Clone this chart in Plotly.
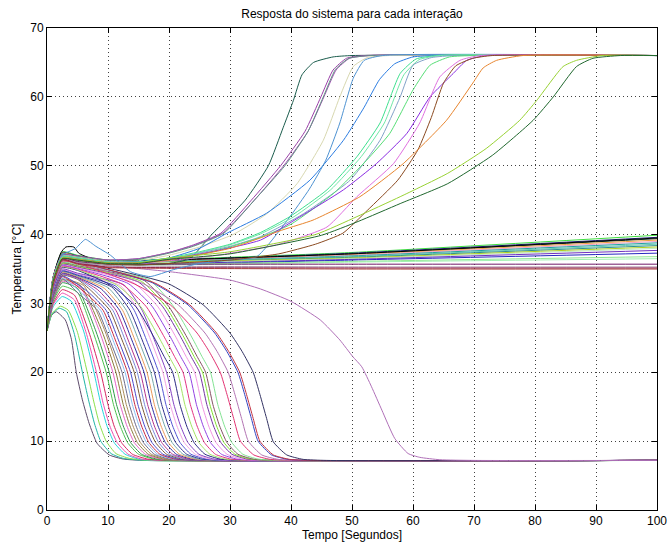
import plotly.graph_objects as go

TITLE = "Resposta do sistema para cada interação"
X_LABEL = "Tempo [Segundos]"
Y_LABEL = "Temperatura [°C]"

# ---- lines that fall to the lower saturation (~7.2 °C) ----
FALL_T = [
    [0, 0.7, 1.5, 3.0, 4.0, 4.8, 5.8, 6.9, 8.2, 10.2, 12.5, 16, 100],
    [0, 0.8, 2.0, 3.2, 4.5, 5.8, 6.8, 7.8, 8.8, 10.5, 12.5, 16, 100],
    [0, 0.8, 2.2, 3.5, 5.0, 6.6, 7.6, 8.6, 9.7, 11.3, 13.5, 17, 100],
    [0, 1, 2.5, 4, 6, 7.7, 8.8, 9.8, 11, 12.8, 15, 19, 100],
    [0, 1, 2.5, 4.5, 6.5, 8.1, 9.2, 10.3, 11.5, 13.3, 15.5, 19.5, 100],
    [0, 1, 2.5, 4.5, 7, 8.8, 10, 11, 12.2, 14, 16.5, 20, 100],
    [0, 1, 2.5, 5, 7.5, 9.7, 10.9, 12, 13.2, 15, 17.5, 21, 100],
    [0, 1, 2.5, 5, 8, 10.2, 11.4, 12.5, 13.7, 15.5, 18, 22, 100],
    [0, 1, 2.5, 5.5, 8.5, 10.8, 12, 13.1, 14.3, 16.1, 18.6, 22.5, 100],
    [0, 1, 2.5, 5.5, 9, 11.3, 12.5, 13.6, 14.8, 16.6, 19.1, 23, 100],
    [0, 1, 2.5, 6, 9.5, 11.8, 13, 14.1, 15.3, 17.1, 19.6, 23.5, 100],
    [0, 1, 2.5, 5.3, 8.3, 10.3, 12.3, 13.5, 14.6, 15.8, 17.6, 20.1, 24, 100],
    [0, 1, 2.5, 5.8, 8.8, 10.8, 12.8, 14, 15.1, 16.3, 18.1, 20.6, 24.5, 100],
    [0, 1, 2.5, 6.2, 9.2, 11.2, 13.2, 14.4, 15.5, 16.7, 18.5, 21, 24.9, 100],
    [0, 1, 2.5, 6.7, 9.7, 11.7, 13.7, 14.9, 16, 17.2, 19, 21.5, 25.4, 100],
    [0, 1, 2.5, 5, 7.3, 10.3, 12.3, 14.3, 15.5, 16.6, 17.8, 19.6, 22.1, 26, 100],
    [0, 1, 2.5, 5, 7.8, 10.8, 12.8, 14.8, 16, 17.1, 18.3, 20.1, 22.6, 26.5, 100],
    [0, 1, 2.5, 5, 8.3, 11.3, 13.3, 15.3, 16.5, 17.6, 18.8, 20.6, 23.1, 27, 100],
    [0, 1, 2.5, 5, 8.9, 11.9, 13.9, 15.9, 17.1, 18.2, 19.4, 21.2, 23.7, 27.6, 100],
    [0, 1, 2.5, 5, 9.4, 12.4, 14.4, 16.4, 17.6, 18.7, 19.9, 21.7, 24.2, 28.1, 100],
    [0, 1, 2.5, 5, 10, 13, 15, 17, 18.2, 19.3, 20.5, 22.3, 24.8, 28.7, 100],
    [0, 1, 2.5, 5, 10.6, 13.6, 15.6, 17.6, 18.8, 19.9, 21.1, 22.9, 25.4, 29.3, 100],
    [0, 1, 2.5, 5, 11.3, 14.3, 16.3, 18.3, 19.5, 20.6, 21.8, 23.6, 26.1, 30, 100],
    [0, 1, 2.5, 5, 12, 15, 17, 19, 20.2, 21.3, 22.5, 24.3, 26.8, 30.7, 100],
    [0, 1, 2.5, 5, 12.6, 15.6, 17.6, 19.6, 20.8, 21.9, 23.1, 24.9, 27.4, 31.3, 100],
    [0, 1, 2.5, 5, 10.6, 14.6, 17.6, 19.2, 20.6, 21.8, 22.9, 24.1, 25.9, 28.4, 32.3, 100],
    [0, 1, 2.5, 5, 11.4, 15.4, 18.4, 20, 21.4, 22.6, 23.7, 24.9, 26.7, 29.2, 33.1, 100],
    [0, 1, 2.5, 5, 12.3, 16.3, 19.3, 20.9, 22.3, 23.5, 24.6, 25.8, 27.6, 30.1, 34, 100],
    [0, 1, 2.5, 5, 13.3, 17.3, 20.3, 21.9, 23.3, 24.5, 25.6, 26.8, 28.6, 31.1, 35, 100],
    [0, 1, 2.5, 5, 14.2, 18.2, 21.2, 22.8, 24.2, 25.4, 26.5, 27.7, 29.5, 32, 35.9, 100],
    [0, 1, 2.5, 5, 15, 19, 22, 23.6, 25, 26.2, 27.3, 28.5, 30.3, 32.8, 36.7, 100],
    [0, 1, 2.5, 5, 15.5, 19.5, 22.5, 24.1, 25.5, 26.7, 27.8, 29, 30.8, 33.3, 37.2, 100],
    [0, 1, 2.5, 5, 16, 20, 23, 24.6, 26, 27.2, 28.3, 29.5, 31.3, 33.8, 37.7, 100],
    [0, 1, 2.5, 5, 16.8, 20.8, 23.8, 25.4, 26.8, 28, 29.1, 30.3, 32.1, 34.6, 38.5, 100],
    [0, 1, 2.5, 5, 14.4, 20.2, 24.6, 26.6, 28.4, 29.5, 30.6, 31.7, 33.9, 36.6, 40.4, 100],
    [0, 1, 2.5, 5, 15.7, 21.5, 25.9, 27.9, 29.7, 30.8, 31.9, 33, 35.2, 37.9, 41.7, 100],
    [0, 1, 2.5, 5, 17.3, 23.1, 27.5, 29.5, 31.3, 32.4, 33.5, 34.6, 36.8, 39.5, 43.3, 100],
    [0, 1, 2.5, 5, 17.6, 23.4, 27.8, 29.8, 31.6, 32.7, 33.8, 34.9, 37.1, 39.8, 43.6, 100],
    [0, 1, 2.5, 5, 19.8, 25.6, 30, 32, 33.8, 34.9, 36, 37.1, 39.3, 42, 45.8, 100],
    [0, 1, 2.5, 5, 10, 20.2, 30, 35, 40, 44.8, 48, 50.1, 51.6, 53.2, 54.9, 57, 59.2, 61.1, 64.4, 70, 100],
]
FALL_Y = [
    [26, 28.2, 28.8, 27.6, 24.8, 20.0, 16.0, 12.6, 9.7, 8.0, 7.4, 7.2, 7.2],
    [26, 28.4, 29.3, 28.8, 25.5, 20.0, 16.0, 12.5, 10.0, 8.2, 7.5, 7.2, 7.2],
    [26, 28.5, 29.6, 29.0, 25.8, 20.0, 16.0, 12.5, 10.0, 8.2, 7.5, 7.2, 7.2],
    [26, 29.5, 31, 30.3, 26.0, 20.0, 15.5, 12.3, 9.8, 8.1, 7.4, 7.2, 7.2],
    [26, 29.8, 31.5, 30.5, 25.5, 20.0, 15.5, 12.2, 9.8, 8.1, 7.4, 7.2, 7.2],
    [26, 30, 32, 31.2, 25.5, 20.0, 15.3, 12.2, 9.8, 8.1, 7.4, 7.2, 7.2],
    [26, 30.3, 32.5, 31.6, 26.0, 20.0, 15.3, 12.2, 9.8, 8.1, 7.4, 7.2, 7.2],
    [26, 30.5, 33, 32.2, 26.0, 20, 15.3, 12.2, 9.8, 8.1, 7.4, 7.2, 7.2],
    [26, 30.6, 33.2, 32.3, 26.2, 20, 15.3, 12.2, 9.8, 8.1, 7.4, 7.2, 7.2],
    [26, 30.7, 33.4, 32.6, 26.0, 20, 15.3, 12.2, 9.8, 8.1, 7.4, 7.2, 7.2],
    [26, 30.8, 33.5, 32.6, 26.0, 20, 15.3, 12.2, 9.8, 8.1, 7.4, 7.2, 7.2],
    [26, 30.8, 33.6, 31.3, 29, 24.7, 20, 15.3, 12.2, 9.8, 8.1, 7.4, 7.2, 7.2],
    [26, 30.9, 33.7, 31.4, 29, 24.7, 20, 15.3, 12.2, 9.8, 8.1, 7.4, 7.2, 7.2],
    [26, 31, 33.9, 31.6, 29, 24.7, 20, 15.3, 12.2, 9.8, 8.1, 7.4, 7.2, 7.2],
    [26, 31.1, 34, 31.7, 29, 24.7, 20, 15.3, 12.2, 9.8, 8.1, 7.4, 7.2, 7.2],
    [26, 31.2, 34.1, 33.5, 31.8, 29, 24.7, 20, 15.3, 12.2, 9.8, 8.1, 7.4, 7.2, 7.2],
    [26, 31.3, 34.2, 33.6, 31.9, 29, 24.7, 20, 15.3, 12.2, 9.8, 8.1, 7.4, 7.2, 7.2],
    [26, 31.4, 34.3, 33.7, 32, 29, 24.7, 20, 15.3, 12.2, 9.8, 8.1, 7.4, 7.2, 7.2],
    [26, 31.5, 34.4, 33.8, 32.1, 29, 24.7, 20, 15.3, 12.2, 9.8, 8.1, 7.4, 7.2, 7.2],
    [26, 31.6, 34.5, 33.9, 32.2, 29, 24.7, 20, 15.3, 12.2, 9.8, 8.1, 7.4, 7.2, 7.2],
    [26, 31.7, 34.6, 34, 32.3, 29, 24.7, 20, 15.3, 12.2, 9.8, 8.1, 7.4, 7.2, 7.2],
    [26, 31.8, 34.7, 34.1, 32.4, 29, 24.7, 20, 15.3, 12.2, 9.8, 8.1, 7.4, 7.2, 7.2],
    [26, 31.9, 34.8, 34.2, 32.5, 29, 24.7, 20, 15.3, 12.2, 9.8, 8.1, 7.4, 7.2, 7.2],
    [26, 32, 34.9, 34.3, 32.6, 29, 24.7, 20, 15.3, 12.2, 9.8, 8.1, 7.4, 7.2, 7.2],
    [26, 32.1, 35, 34.4, 32.7, 29, 24.7, 20, 15.3, 12.2, 9.8, 8.1, 7.4, 7.2, 7.2],
    [26, 32.4, 35.2, 34.8, 32.6, 29.5, 25, 22.3, 20, 15.3, 12.2, 9.8, 8.1, 7.4, 7.2, 7.2],
    [26, 32.5, 35.3, 34.9, 32.7, 29.5, 25, 22.3, 20, 15.3, 12.2, 9.8, 8.1, 7.4, 7.2, 7.2],
    [26, 32.6, 35.4, 35, 32.8, 29.5, 25, 22.3, 20, 15.3, 12.2, 9.8, 8.1, 7.4, 7.2, 7.2],
    [26, 32.7, 35.5, 35.1, 32.9, 29.5, 25, 22.3, 20, 15.3, 12.2, 9.8, 8.1, 7.4, 7.2, 7.2],
    [26, 32.8, 35.6, 35.2, 33, 29.5, 25, 22.3, 20, 15.3, 12.2, 9.8, 8.1, 7.4, 7.2, 7.2],
    [26, 32.9, 35.7, 35.3, 33.1, 29.5, 25, 22.3, 20, 15.3, 12.2, 9.8, 8.1, 7.4, 7.2, 7.2],
    [26, 33, 35.8, 35.4, 33.2, 29.5, 25, 22.3, 20, 15.3, 12.2, 9.8, 8.1, 7.4, 7.2, 7.2],
    [26, 33.1, 35.9, 35.5, 33.3, 29.5, 25, 22.3, 20, 15.3, 12.2, 9.8, 8.1, 7.4, 7.2, 7.2],
    [26, 33.2, 36, 35.6, 33.4, 29.5, 25, 22.3, 20, 15.3, 12.2, 9.8, 8.1, 7.4, 7.2, 7.2],
    [26, 33.3, 36.1, 35.8, 32.8, 29.8, 25.7, 23, 20, 16.8, 13.3, 10, 8, 7.35, 7.2, 7.2],
    [26, 33.4, 36.2, 35.9, 32.9, 29.8, 25.7, 23, 20, 16.8, 13.3, 10, 8, 7.35, 7.2, 7.2],
    [26, 33.5, 36.3, 36, 33, 29.8, 25.7, 23, 20, 16.8, 13.3, 10, 8, 7.35, 7.2, 7.2],
    [26, 33.5, 36.3, 36, 33, 29.8, 25.7, 23, 20, 16.8, 13.3, 10, 8, 7.35, 7.2, 7.2],
    [26, 33.6, 36.4, 36.1, 32.9, 29.8, 25.7, 23, 20, 16.8, 13.3, 9.9, 8, 7.35, 7.2, 7.2],
    [26, 33.5, 36.3, 36, 35.5, 34.6, 33.4, 32.1, 30.3, 27.6, 24.7, 22.3, 20.8, 17.9, 14.5, 10.4, 8.2, 7.65, 7.3, 7.2, 7.2],
]
FALL_COLORS = [
    "#5c4a6a", "#1fb5a5", "#8be04a", "#22d5dd", "#ee4fb0", "#d6245f", "#4ec24e", "#2f9a4a",
    "#e463c8", "#8a7a3c", "#a98c5a", "#6b6b8b", "#8cbcf2", "#c62a42", "#4a4acb", "#7b5a3a",
    "#7a8ad8", "#b3338a", "#2e2ea2", "#e99a5a", "#74a9a9", "#32328f", "#5555d5", "#f3a3e3",
    "#8442c4", "#2b2b82", "#a3e363", "#e33383", "#9343e3", "#f293e3", "#7333a3", "#83e333",
    "#835363", "#83e393", "#e33373", "#b373b3", "#3343c3", "#c33343", "#333363", "#b070b8",
]

# ---- lines that stay around 35-40 °C ----
DRIFT_T = [0, 1, 2.5, 5, 10, 20, 50, 100]
DRIFT_Y = [
    [26, 33.8, 37.5, 37.0, 36.3, 36.4, 37.4, 39.9],
    [26, 33.7, 37.4, 36.9, 36.2, 36.3, 37.3, 39.6],
    [26, 33.7, 37.3, 36.8, 36.2, 36.3, 37.2, 39.4],
    [26, 33.6, 37.3, 36.8, 36.1, 36.2, 37.1, 39.2],
    [26, 33.6, 37.2, 36.7, 36.1, 36.2, 37.0, 39.0],
    [26, 33.5, 37.2, 36.6, 36.0, 36.1, 36.9, 38.8],
    [26, 33.5, 37.1, 36.6, 36.0, 36.1, 36.8, 38.6],
    [26, 33.4, 37.1, 36.5, 35.9, 36.0, 36.7, 38.4],
    [26, 33.4, 37.0, 36.5, 35.9, 36.0, 36.6, 38.2],
    [26, 33.3, 37.0, 36.4, 35.8, 35.9, 36.5, 38.0],
    [26, 33.3, 36.9, 36.3, 35.8, 35.8, 36.4, 37.7],
    [26, 33.2, 36.9, 36.3, 35.7, 35.7, 36.3, 37.3],
    [26, 33.2, 36.8, 36.2, 35.7, 35.7, 36.1, 36.8],
    [26, 33.1, 36.8, 36.1, 35.6, 35.6, 36.0, 36.5],
    [26, 33.0, 36.6, 36.1, 35.7, 35.7, 35.7, 35.7],
    [26, 32.9, 36.5, 35.9, 35.5, 35.4, 35.3, 35.3],
    [26, 32.8, 36.4, 35.8, 35.3, 35.2, 35.15, 35.15],
    [26, 32.7, 36.3, 35.7, 35.2, 35.1, 35.0, 35.0],
]
DRIFT_COLORS = [
    "#40e040", "#202080", "#103828", "#f0a040", "#f0a0c8", "#20a0a0", "#60c8b0", "#2f8f8f",
    "#b0d020", "#c0e8c0", "#7030c0", "#2828c0", "#90e890", "#a0f0b0", "#701a68", "#b090a8",
    "#8a2050", "#a83838",
]
BLACK_T = [0, 1, 2.3, 3.1, 4.4, 5.2, 7, 10, 20, 50, 100]
BLACK_Y = [26, 33.8, 37.4, 38.2, 38.2, 37.3, 36.6, 36.2, 36.3, 37.2, 39.5]

# ---- lines that rise to the upper saturation (~66 °C) ----
RISE_T = [
    [0, 1, 2.5, 5, 10, 15, 20, 23.4, 27, 32.5, 36.3, 38.7, 40.4, 41.8, 43.7, 46.9, 50, 100],
    [0, 1, 2.5, 5, 10, 15, 20, 24, 28.5, 33.5, 38.3, 42.3, 44.9, 46.9, 49.1, 52, 100],
    [0, 1, 2.5, 5, 10, 15, 20, 24, 28.8, 34, 38.8, 42.8, 45.4, 47.4, 49.6, 53, 100],
    [0, 1, 2.5, 5, 10, 15, 20, 24, 29, 34, 39, 42.8, 45.3, 47.3, 49.5, 53, 100],
    [0, 1, 2.5, 5, 10, 15, 20, 25, 30.5, 36, 41, 45.3, 48, 50.2, 52.5, 56, 100],
    [0, 1, 2.5, 5, 10, 15, 20, 25, 29.5, 36, 43.1, 48.6, 52, 54.5, 57, 60, 64, 100],
    [0, 1, 2.5, 4.7, 6.3, 8, 10.4, 13.7, 16.9, 20.7, 25, 30, 34.4, 39.5, 43, 45.7, 48, 50.2, 52, 55, 100],
    [0, 1, 2.5, 5, 10, 15, 20, 25, 30, 35, 39.8, 45.9, 50.8, 54.6, 57.9, 60.5, 64, 100],
    [0, 1, 2.5, 5, 10, 15, 20, 25, 30, 35, 40.5, 46.5, 51.5, 55.3, 58.5, 61, 64.5, 100],
    [0, 1, 2.5, 5, 10, 15, 20, 25, 30, 35, 42, 49.7, 54.6, 57.9, 60, 63, 67, 100],
    [0, 1, 2.5, 5, 10, 15, 20, 25, 30, 35, 40, 47, 52.4, 56.2, 60, 62.8, 66, 70, 100],
    [0, 1, 2.5, 5, 10, 15, 20, 27, 35, 41.5, 48.6, 54, 59, 62.8, 66.6, 68.8, 72, 100],
    [0, 1, 2.5, 5, 10, 15, 20, 28, 38, 45.9, 50.8, 56.8, 61.1, 64.4, 67.7, 71, 100],
    [0, 1, 2.5, 5, 10, 15, 20, 30, 38, 44, 48.5, 52.5, 57.5, 60.8, 63, 65, 67, 69.8, 73, 100],
    [0, 1, 2.5, 5, 10, 15, 20, 30, 38.7, 43.6, 51.3, 58.4, 65.5, 69.8, 71.5, 73.7, 78, 100],
    [0, 1, 2.5, 5, 10, 15, 20, 30, 44, 50.8, 57.9, 65.7, 72, 77.5, 80.3, 84.6, 86.8, 91, 100],
    [0, 1, 2.5, 5, 10, 15, 20, 30, 45, 51, 57.9, 65.7, 73, 79.7, 83, 86.8, 89.5, 94, 100],
]
RISE_Y = [
    [26, 33.6, 36.8, 36.6, 35.9, 35.6, 35.8, 36.5, 40, 45, 50, 55.5, 59.5, 63.2, 65, 65.8, 66, 66],
    [26, 33.8, 37, 36.9, 36.3, 36.5, 37.4, 38.5, 40.2, 45, 50, 55, 60, 63.9, 65.6, 66, 66],
    [26, 33.8, 37, 36.8, 36.3, 36.5, 37.4, 38.4, 40.2, 45, 50, 55, 60, 63.9, 65.6, 66, 66],
    [26, 33.7, 36.9, 36.8, 36.2, 36.4, 37.3, 38.3, 40.2, 45, 50, 55, 60, 64, 65.6, 66, 66],
    [26, 33.6, 36.9, 36.7, 36.1, 36.2, 37, 38.2, 40, 43, 47.4, 53.7, 60, 64.4, 65.7, 66, 66],
    [26, 33.5, 36.8, 36.6, 36, 36.1, 36.6, 38, 40.2, 43.1, 47.9, 53.7, 58.5, 62.5, 64.8, 65.8, 66, 66],
    [26, 33.5, 37, 38, 39.3, 38.3, 37, 34.6, 33.9, 34.9, 35.8, 36.3, 36.8, 42.2, 46.6, 50.8, 56.2, 62.7, 65.3, 66, 66],
    [26, 33.5, 36.8, 36.6, 36, 36, 36.6, 37.5, 38.6, 40.3, 42.6, 46.5, 51.3, 56.2, 63.4, 65.5, 66, 66],
    [26, 33.5, 36.8, 36.6, 36, 36, 36.5, 37.4, 38.5, 40.1, 42.6, 46.5, 51.3, 56.2, 63.2, 65.4, 66, 66],
    [26, 33.5, 36.7, 36.5, 35.9, 35.9, 36.4, 37.3, 38.3, 39.7, 43, 47.9, 53.7, 60, 64.6, 65.7, 66, 66],
    [26, 33.4, 36.7, 36.5, 35.9, 35.9, 36.3, 37.1, 38.2, 39.6, 41.5, 46, 50.8, 54.7, 61, 64.6, 65.8, 66, 66],
    [26, 33.4, 36.6, 36.4, 35.9, 35.9, 36.4, 37.5, 39.2, 42.6, 46.5, 50.3, 54.7, 60, 63.4, 65.3, 66, 66],
    [26, 33.3, 36.6, 36.4, 35.8, 35.8, 36.2, 37, 38.6, 41.1, 45.5, 50.3, 56.2, 62.9, 65.3, 66, 66],
    [26, 33.2, 36.5, 36.3, 35.7, 35.6, 35.8, 36.3, 37.2, 38.6, 40.2, 43.5, 47.9, 52.3, 57, 62, 64.5, 65.6, 66, 66],
    [26, 33.3, 36.6, 36.4, 35.9, 35.9, 36.3, 38, 40.7, 42.1, 45.5, 50.3, 56.6, 62, 64.2, 65.3, 66, 66],
    [26, 33.3, 36.6, 36.4, 35.9, 35.9, 36.6, 37.5, 40, 42.6, 45.5, 48.9, 52.5, 56.6, 59.5, 64.4, 65.3, 66, 66],
    [26, 33.2, 36.5, 36.3, 35.8, 35.8, 36.4, 37.2, 39.9, 41.9, 44.5, 47.4, 51.5, 56.6, 60, 64.4, 65.6, 66, 66],
]
RISE_COLORS = [
    "#1a5c4c", "#9a40a8", "#a552b5", "#5f9282", "#d8d8b0", "#2c7de2", "#4d92d2", "#3ee08e",
    "#70e8a8", "#82a2c8", "#56de76", "#8a2be2", "#e070e0", "#8b4a20", "#e8852e", "#98d232",
    "#20682e",
]

fig = go.Figure()

def add_line(t, y, color):
    fig.add_trace(go.Scatter(
        x=t, y=y, mode="lines",
        line=dict(color=color, width=1, shape="spline", smoothing=0.5),
        hoverinfo="skip", showlegend=False,
    ))

for t, y, c in zip(FALL_T, FALL_Y, FALL_COLORS):
    add_line(t, y, c)
for y, c in zip(DRIFT_Y, DRIFT_COLORS):
    add_line(DRIFT_T, y, c)
add_line(BLACK_T, BLACK_Y, "#000000")
for t, y, c in zip(RISE_T, RISE_Y, RISE_COLORS):
    add_line(t, y, c)

FONT = "Liberation Sans, Arial, Helvetica, sans-serif"
axis_common = dict(
    showgrid=True, gridcolor="#404040", gridwidth=1, griddash="1px,3px",
    zeroline=False, showline=True, linecolor="#000000", linewidth=1,
    mirror="ticks", ticks="inside", ticklen=5, tickcolor="#000000",
    tickfont=dict(family=FONT, size=12, color="#000000"),
)

fig.update_layout(
    width=668, height=547,
    margin=dict(l=47, r=11, t=28, b=37),
    paper_bgcolor="#ffffff", plot_bgcolor="#ffffff",
    font=dict(family=FONT, size=12, color="#000000"),
    title=dict(text=TITLE, x=0.5, xref="paper", xanchor="center",
               y=(547 - 14) / 547, yref="container", yanchor="middle",
               font=dict(family=FONT, size=12, color="#000000")),
    xaxis=dict(range=[0, 100], tick0=0, dtick=10, **axis_common,
               title=dict(text=X_LABEL, standoff=2, font=dict(family=FONT, size=12))),
    yaxis=dict(range=[0, 70], tick0=0, dtick=10, **axis_common,
               title=dict(text=Y_LABEL, standoff=6, font=dict(family=FONT, size=12))),
    hovermode=False,
)
fig.update_xaxes(automargin=False)
fig.update_yaxes(automargin=False)

fig.write_html("out.html")
